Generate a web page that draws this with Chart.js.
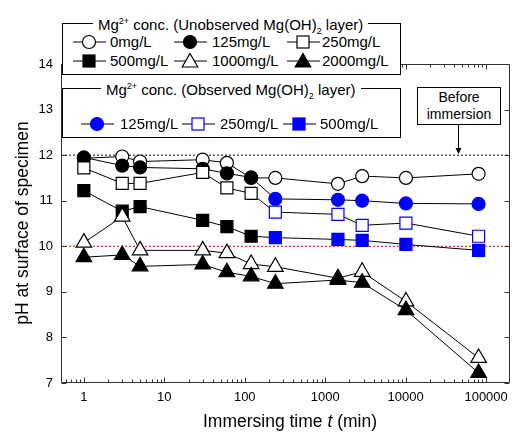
<!DOCTYPE html>
<html>
<head>
<meta charset="utf-8">
<script src="https://cdn.jsdelivr.net/npm/chart.js@4.4.0/dist/chart.umd.min.js"></script>
<style>
  html, body { margin: 0; padding: 0; background: #fff; overflow: hidden; }
  #wrap { position: relative; width: 512px; height: 434px; overflow: hidden; font-family: "Liberation Sans", Arial, sans-serif; color: #000; }
  #c { position: absolute; left: 0; top: 0; }
  .box { position: absolute; border: 1px solid #000; background: #fff; box-sizing: border-box; }
  .ttl { position: absolute; background: #fff; padding: 0 5px; font-size: 15px; line-height: 17px; white-space: nowrap; }
  .ttl sup, .ttl sub { font-size: 9px; }
  .ttl sup { vertical-align: 6px; }
  .ttl sub { vertical-align: -4px; }
  .item { position: absolute; font-size: 15px; line-height: 17px; white-space: nowrap; }
  .mk { position: absolute; }
  #xt { position: absolute; left: 0; width: 580px; top: 411px; text-align: center; font-size: 17.5px; }
  #yt { position: absolute; left: 22px; top: 223px; font-size: 17.5px; white-space: nowrap; transform: translate(-50%, -50%) rotate(-90deg); }
  #before { position: absolute; left: 417px; top: 87px; width: 84px; height: 38px; border: 1px solid #000; box-sizing: border-box; background: #fff; font-size: 14px; line-height: 17px; text-align: center; padding-top: 1px; }
</style>
</head>
<body>
<div id="wrap">
  <!-- canvas is a bit wider than the page: Chart.js keeps ~8px right padding for the x labels -->
  <canvas id="c" width="520" height="434"></canvas>
  <div id="legends"></div>
  <div id="before">Before<br>immersion</div>
  <svg id="arrow" width="512" height="434" style="position:absolute;left:0;top:0;pointer-events:none">
    <line x1="458.5" y1="125" x2="458.5" y2="151" stroke="#000" stroke-width="1"/>
    <polygon points="455.5,148 461.5,148 458.5,154" fill="#000"/>
  </svg>
  <div id="xt">Immersing time <i>t</i> (min)</div>
  <div id="yt">pH at surface of specimen</div>
</div>
<script>
// immersing time (min)
const times = [1, 3, 5, 30, 60, 120, 240, 1440, 2880, 10080, 80640];

// pH at surface, per Mg2+ concentration
const ph0 = [11.93, 11.97, 11.86, 11.9, 11.83, 11.5, 11.5, 11.37, 11.54, 11.5, 11.59];
const ph125 = [11.95, 11.77, 11.73, 11.7, 11.6, 11.51, 11.04, 11.02, 11.0, 10.94, 10.93];
const ph250 = [11.72, 11.38, 11.38, 11.62, 11.28, 11.16, 10.75, 10.7, 10.46, 10.51, 10.22];
const ph500 = [11.22, 10.77, 10.87, 10.57, 10.43, 10.22, 10.19, 10.15, 10.13, 10.04, 9.91];
const ph1000 = [10.08, 10.65, 9.91, 9.91, 9.85, 9.61, 9.55, 9.3, 9.44, 8.79, 7.55];
const ph2000 = [9.76, 9.81, 9.56, 9.6, 9.43, 9.34, 9.18, 9.26, 9.2, 8.6, 7.22];

// first index where a Mg(OH)2 layer was observed (blue markers)
const observedFrom = 6;

const xMajor = [1, 10, 100, 1000, 10000, 100000];
const yTicks = [7, 8, 9, 10, 11, 12, 13, 14];
const beforeImmersion = 12;
const limitLine = 10;

const X_MIN = 0.52, X_MAX = 197000;
const BLUE = '#0000ff';

function pts(arr) {
  return times.map((t, i) => ({ x: t, y: arr[i] }));
}
function split(a, b) {
  return times.map((t, i) => i < observedFrom ? a : b);
}

function series(label, arr, style, radius, bg, border) {
  return {
    label: label,
    data: pts(arr),
    borderColor: '#000',
    borderWidth: 1,
    pointStyle: style,
    pointRadius: radius,
    pointHoverRadius: radius,
    pointBackgroundColor: bg,
    pointBorderColor: border,
    pointBorderWidth: 1.2,
    fill: false,
    tension: 0
  };
}

function hline(y, color) {
  return {
    label: 'ref' + y,
    data: [{ x: X_MIN, y: y }, { x: X_MAX, y: y }],
    borderColor: color,
    borderWidth: 1,
    borderDash: [2, 2],
    pointRadius: 0,
    fill: false
  };
}

// index 0 is drawn on top
const datasets = [
  series('2000mg/L', ph2000, 'triangle', 9, '#000', '#000'),
  series('1000mg/L', ph1000, 'triangle', 9, '#fff', '#000'),
  series('500mg/L', ph500, 'rect', 8.5, split('#000', BLUE), split('#000', BLUE)),
  series('250mg/L', ph250, 'rect', 8.5, '#fff', split('#000', BLUE)),
  series('125mg/L', ph125, 'circle', 6.5, split('#000', BLUE), split('#000', BLUE)),
  series('0mg/L', ph0, 'circle', 6.5, '#fff', '#000'),
  hline(limitLine, '#ff0000'),
  hline(beforeImmersion, '#000')
];

const isMajor = v => v >= 1 && Math.abs(Math.log10(v) - Math.round(Math.log10(v))) < 1e-6;

// frame with inward ticks on all four sides
const frameTicks = {
  id: 'frameTicks',
  afterDatasetsDraw(chart) {
    const { ctx, chartArea: a, scales } = chart;
    const xs = scales.x, ys = scales.y;
    ctx.save();
    ctx.strokeStyle = '#333';
    ctx.lineWidth = 1;
    ctx.beginPath();
    const L = Math.round(a.left) + 0.5, R = Math.round(a.right) - 0.5;
    const T = Math.round(a.top) + 0.5, B = Math.round(a.bottom) - 0.5;
    ctx.rect(L, T, R - L, B - T);
    for (let k = -1; k <= 5; k++) {
      for (let m = 1; m <= 9; m++) {
        const v = m * Math.pow(10, k);
        if (v < X_MIN || v > X_MAX) continue;
        const px = Math.round(xs.getPixelForValue(v)) + 0.5;
        const len = m === 1 ? 5 : 3;
        ctx.moveTo(px, B); ctx.lineTo(px, B - len);
        ctx.moveTo(px, T); ctx.lineTo(px, T + len);
      }
    }
    yTicks.forEach(v => {
      const py = Math.round(ys.getPixelForValue(v)) + 0.5;
      ctx.moveTo(L, py); ctx.lineTo(L + 5, py);
      ctx.moveTo(R, py); ctx.lineTo(R - 5, py);
    });
    ctx.stroke();
    ctx.restore();
  }
};

new Chart(document.getElementById('c'), {
  type: 'line',
  data: { datasets: datasets },
  options: {
    responsive: false,
    animation: false,
    events: [],
    layout: { padding: { top: 64, right: 2, left: 0, bottom: 0 } },
    plugins: { legend: { display: false }, tooltip: { enabled: false } },
    scales: {
      x: {
        type: 'logarithmic',
        min: X_MIN,
        max: X_MAX,
        grid: { display: false, drawTicks: false },
        border: { display: false },
        afterFit: s => { s.height = 51; },
        ticks: {
          autoSkip: false,
          maxRotation: 0,
          padding: 7,
          color: '#000',
          font: { family: 'Liberation Sans', size: 13 },
          callback: v => isMajor(v) && xMajor.includes(Math.round(v)) ? String(Math.round(v)) : ''
        }
      },
      y: {
        min: 7,
        max: 14,
        grid: { display: false, drawTicks: false },
        border: { display: false },
        afterFit: s => { s.width = 61; },
        ticks: {
          stepSize: 1,
          padding: 8,
          color: '#000',
          font: { family: 'Liberation Sans', size: 13 }
        }
      }
    }
  },
  plugins: [frameTicks]
});

// legend boxes (drawn as HTML over the chart)
const marker = {
  circleOpen: (c) => `<circle cx="16" cy="9" r="6.5" fill="#fff" stroke="${c}" stroke-width="1.2"/>`,
  circleFill: (c) => `<circle cx="16" cy="9" r="6.5" fill="${c}" stroke="${c}" stroke-width="1.2"/>`,
  rectOpen: (c) => `<rect x="10" y="3" width="12" height="12" fill="#fff" stroke="${c}" stroke-width="1.2"/>`,
  rectFill: (c) => `<rect x="10" y="3" width="12" height="12" fill="${c}" stroke="${c}" stroke-width="1.2"/>`,
  triOpen: (c) => `<polygon points="16,1.5 23.8,15 8.2,15" fill="#fff" stroke="${c}" stroke-width="1.2"/>`,
  triFill: (c) => `<polygon points="16,1.5 23.8,15 8.2,15" fill="${c}" stroke="${c}" stroke-width="1.2"/>`
};

const legendHtml = [];
function box(l, t, w, h, titleLeft, titleHtml) {
  legendHtml.push(`<div class="box" style="left:${l}px;top:${t}px;width:${w}px;height:${h}px"></div>`);
  legendHtml.push(`<div class="ttl" style="left:${titleLeft}px;top:${t - 10}px">${titleHtml}</div>`);
}
function item(x, y, mk, color, text, textX) {
  legendHtml.push(`<svg class="mk" width="33" height="18" style="left:${x}px;top:${y - 9}px">` +
    `<line x1="0" y1="9" x2="33" y2="9" stroke="#000" stroke-width="1"/>${marker[mk](color)}</svg>`);
  legendHtml.push(`<div class="item" style="left:${textX}px;top:${y - 9}px">${text}</div>`);
}

box(62, 23, 339, 52, 93, 'Mg<sup>2+</sup> conc. (Unobserved Mg(OH)<sub>2</sub> layer)');
item(73, 42, 'circleOpen', '#000', '0mg/L', 110);
item(174, 42, 'circleFill', '#000', '125mg/L', 212);
item(287, 42, 'rectOpen', '#000', '250mg/L', 322);
item(73, 61, 'rectFill', '#000', '500mg/L', 110);
item(174, 61, 'triOpen', '#000', '1000mg/L', 212);
item(287, 61, 'triFill', '#000', '2000mg/L', 322);

box(62, 88, 339, 50, 101, 'Mg<sup>2+</sup> conc. (Observed Mg(OH)<sub>2</sub> layer)');
item(81, 124, 'circleFill', BLUE, '125mg/L', 120);
item(182, 124, 'rectOpen', BLUE, '250mg/L', 220);
item(283, 124, 'rectFill', BLUE, '500mg/L', 320);

document.getElementById('legends').innerHTML = legendHtml.join('');
</script>
</body>
</html>
